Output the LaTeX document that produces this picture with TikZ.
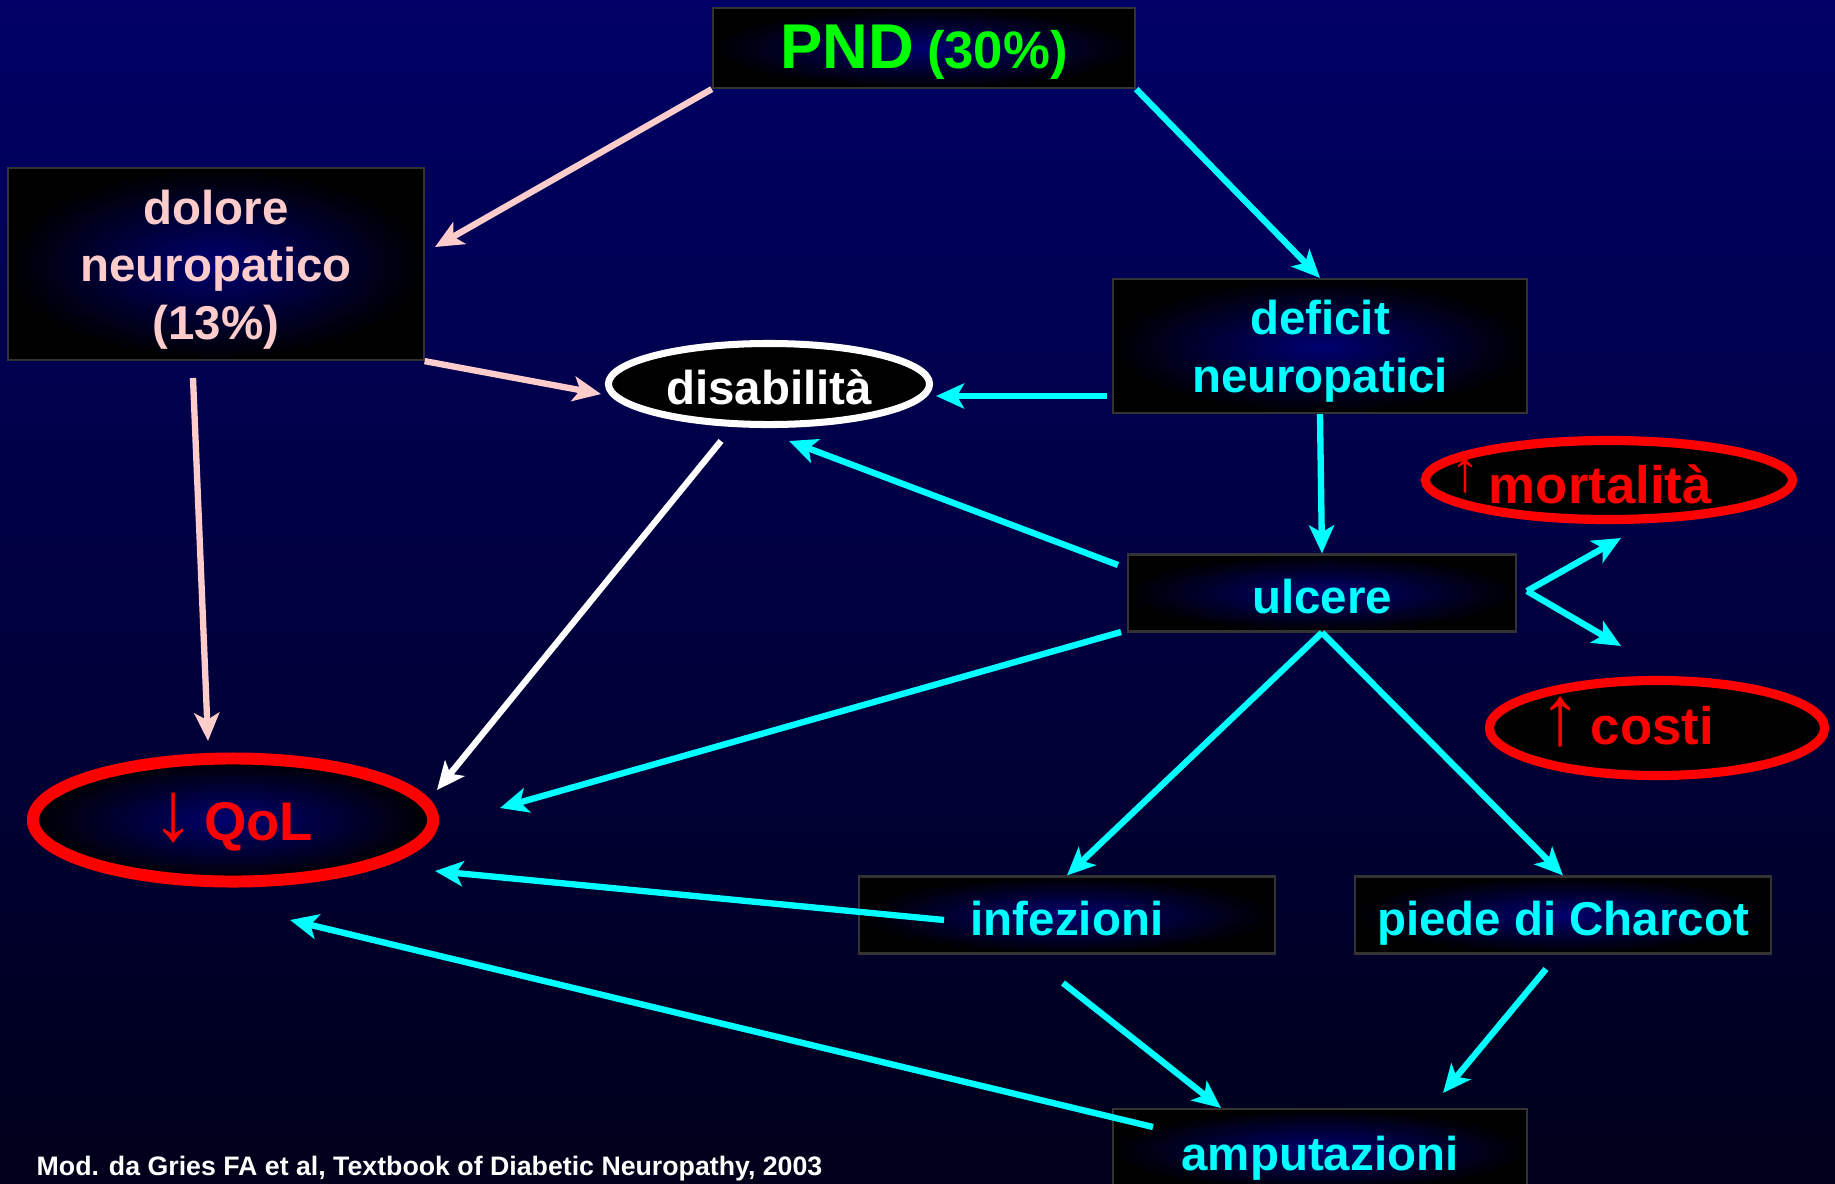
\documentclass[tikz,border=0pt]{standalone}
\usepackage{fontspec}
\setmainfont{Liberation Sans}
\usetikzlibrary{shapes.geometric,arrows.meta}

\definecolor{navytop}{RGB}{0,0,102}
\definecolor{navybottom}{RGB}{0,0,26}
\definecolor{glow}{RGB}{0,0,112}
\definecolor{aqua}{RGB}{0,255,255}
\definecolor{rosy}{RGB}{255,204,204}
\definecolor{pndgreen}{RGB}{0,255,0}
\definecolor{alarm}{RGB}{255,0,0}

\begin{document}
\begin{tikzpicture}[x=0.01cm,y=-0.01cm,
    box/.style ={rectangle, inner sep=0pt, inner color=glow, outer color=black,
                 draw=gray!40!black, line width=0.6pt, align=center,
                 text height=0.45cm, text depth=0.05cm,
                 font=\bfseries\fontsize{13.5}{16.3}\selectfont},
    ring/.style ={ellipse, inner sep=0pt, text height=0.45cm, text depth=0.05cm,
                  font=\bfseries\fontsize{15}{18}\selectfont},
    link/.style ={line width=1.8pt, -{Stealth[length=0.28cm,width=0.25cm,inset=0.07cm]}},
    pinklink/.style ={link, color=rosy},
    cyanlink/.style ={link, color=aqua},
    whitelink/.style ={link, color=white}]

   \useasboundingbox (0,0) rectangle (1835,1184);
   \clip (0,0) rectangle (1835,1184);
   \shade[top color=navytop, bottom color=navybottom] (0,0) rectangle (1835,1184);

   \node[box, text=pndgreen, minimum width=4.22cm, minimum height=0.80cm] (pnd) at (924,48)
      {{\fontsize{18}{20}\selectfont PND} {\fontsize{15}{18}\selectfont (30\%)}};
   \node[box, text=rosy, minimum width=4.15cm, minimum height=1.92cm,
         text height=1.6cm, text depth=0.1cm] (dolore) at (216,264)
      {dolore\\neuropatico\\(13\%)};
   \node[box, text=aqua, minimum width=4.14cm, minimum height=1.34cm,
         text height=1.02cm, text depth=0.1cm] (deficit) at (1320,346)
      {deficit\\neuropatici};
   \node[box, text=aqua, minimum width=3.88cm, minimum height=0.77cm] (ulcere) at (1322,593) {ulcere};
   \node[box, text=aqua, minimum width=4.15cm, minimum height=0.77cm] (infezioni) at (1067,915) {infezioni};
   \node[box, text=aqua, minimum width=4.16cm, minimum height=0.77cm] (charcot) at (1563,915) {piede di Charcot};
   \node[box, text=aqua, minimum width=4.14cm, minimum height=0.82cm] (amputazioni) at (1320,1150) {amputazioni};

   \node[ring, fill=black, draw=white, line width=2pt, text=white, minimum width=3.21cm,
         minimum height=0.81cm, font=\bfseries\fontsize{13.5}{16}\selectfont] (disabilita) at (769,384)
      {\makebox[0pt]{disabilità}};
   \node[ring, fill=black, draw=alarm, line width=2.6pt, text=alarm, minimum width=3.67cm,
         minimum height=0.79cm, text height=0.5cm, text depth=0.04cm] (mortalita) at (1609,480)
      {\makebox[0pt]{{\mdseries\fontsize{17}{17}\selectfont\raisebox{0.12cm}{↑}}\,mortalità\hspace*{0.56cm}}};
   \node[ring, fill=black, draw=alarm, line width=2.6pt, text=alarm, minimum width=3.35cm,
         minimum height=0.95cm, text height=0.37cm] (costi) at (1657,728)
      {\makebox[0pt]{{\mdseries\fontsize{24}{24}\selectfont ↑}\,costi\hspace*{0.6cm}}};
   \node[ring, inner color=glow, outer color=black, draw=alarm, line width=3.4pt, text=alarm,
         minimum width=4.0cm, minimum height=1.23cm,
         font=\bfseries\fontsize{15.5}{18}\selectfont] (qol) at (233,820)
      {\makebox[0pt]{{\mdseries\fontsize{24}{24}\selectfont ↓}\,QoL}};

   \node[anchor=west, inner sep=0pt, text=white, font=\bfseries\fontsize{7.6}{9}\selectfont] (fonte) at (36,1169)
      {Mod. da Gries FA et al, Textbook of Diabetic Neuropathy, 2003};

   \draw[pinklink] (pnd.south west) -- ([shift={(219,-17)}]dolore.center);
   \draw[cyanlink] (pnd.south east) -- (deficit.north);
   \draw[pinklink] (dolore.south east) -- ([shift={(-168,10)}]disabilita.center);
   \draw[pinklink] ([shift={(-23,114)}]dolore.center) -- ([shift={(-25,-79)}]qol.center);
   \draw[cyanlink] ([shift={(-213,50)}]deficit.center) -- ([shift={(167,12)}]disabilita.center);
   \draw[cyanlink] (deficit.south) -- (ulcere.north);
   \draw[cyanlink] ([shift={(-204,-28)}]ulcere.center) -- ([shift={(20,57)}]disabilita.center);
   \draw[whitelink] ([shift={(-48,57)}]disabilita.center) -- ([shift={(204,-30)}]qol.center);
   \draw[cyanlink] ([shift={(-201,39)}]ulcere.center) -- ([shift={(267,-12)}]qol.center);
   \draw[cyanlink] ([shift={(205,-2)}]ulcere.center) -- ([shift={(12,58)}]mortalita.center);
   \draw[cyanlink] ([shift={(205,-2)}]ulcere.center) -- ([shift={(-36,-82)}]costi.center);
   \draw[cyanlink] (ulcere.south) -- (infezioni.north);
   \draw[cyanlink] (ulcere.south) -- (charcot.north);
   \draw[cyanlink] ([shift={(-123,5)}]infezioni.center) -- ([shift={(202,51)}]qol.center);
   \draw[cyanlink] ([shift={(-167,-23)}]amputazioni.center) -- ([shift={(57,100)}]qol.center);
   \draw[cyanlink] ([shift={(-4,68)}]infezioni.center) -- ([shift={(-99,-42)}]amputazioni.center);
   \draw[cyanlink] ([shift={(-17,54)}]charcot.center) -- ([shift={(123,-57)}]amputazioni.center);
\end{tikzpicture}
\end{document}
